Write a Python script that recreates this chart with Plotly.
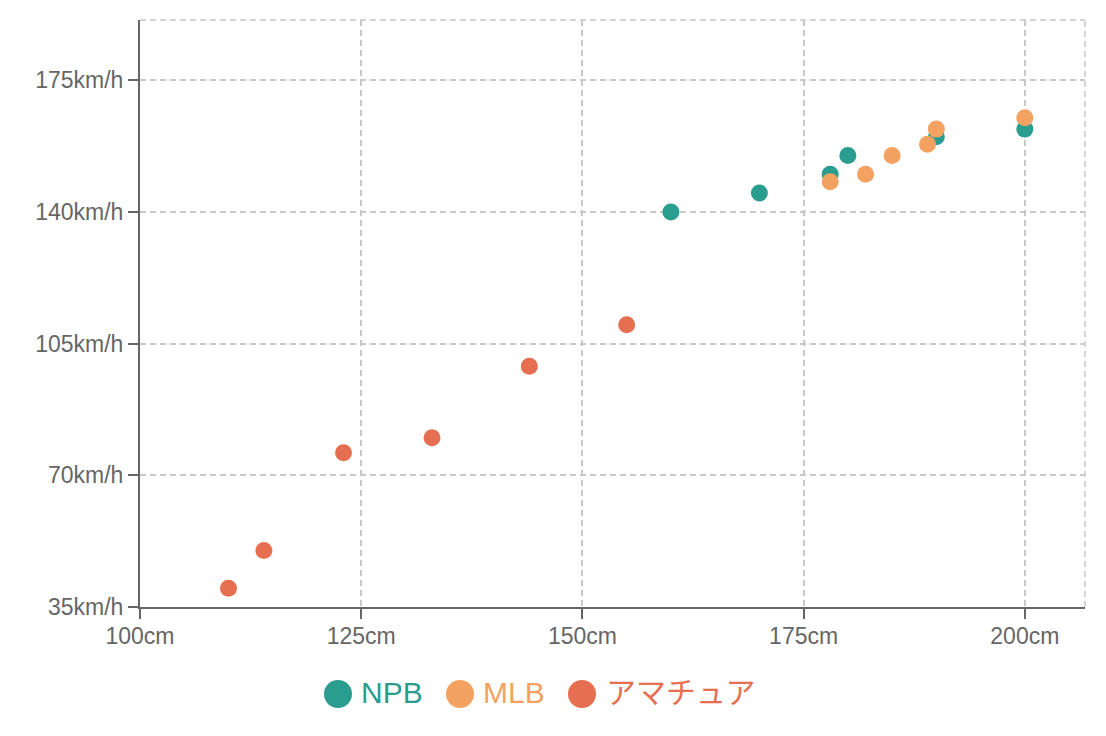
import plotly.graph_objs as go

# データ（身長cm / 球速km/h）
npb_height = [160, 170, 178, 180, 190, 200]
npb_speed = [140, 145, 150, 155, 160, 162]

mlb_height = [178, 182, 185, 189, 190, 200]
mlb_speed = [148, 150, 155, 158, 162, 165]

ama_height = [110, 114, 123, 133, 144, 155]
ama_speed = [40, 50, 76, 80, 99, 110]

series_names = ["NPB", "MLB", "アマチュア"]
series_colors = ["#2a9d8f", "#f4a261", "#e76f51"]

x_ticks = [100, 125, 150, 175, 200]
y_ticks = [35, 70, 105, 140, 175]

FONT = "Liberation Sans, Arial, Noto Sans CJK JP, sans-serif"
OFF = 8  # ページの余白ぶん

fig = go.Figure()

for name, color, xs, ys in zip(series_names, series_colors,
                               [npb_height, mlb_height, ama_height],
                               [npb_speed, mlb_speed, ama_speed]):
    fig.add_trace(go.Scatter(
        x=xs, y=ys, name=name, mode="markers",
        marker=dict(size=17, color=color, line=dict(width=0)),
        showlegend=False))

axis_common = dict(
    showline=True, linecolor="#666666", linewidth=2,
    ticks="outside", ticklen=10, tickwidth=2, tickcolor="#666666",
    tickfont=dict(family=FONT, size=23, color="#666666"),
    showgrid=True, gridcolor="#c8c8c8", gridwidth=1.5, griddash="6px,4px",
    zeroline=False,
)

fig.update_xaxes(range=[100, 206.8], tickvals=x_ticks,
                 ticktext=[f"{v}cm" for v in x_ticks], ticklabelstandoff=-3,
                 **axis_common)
fig.update_yaxes(range=[35, 191], tickvals=y_ticks,
                 ticktext=[f"{v}km/h" for v in y_ticks], **axis_common)

# 上と右の枠（点線）
for x0, y0, x1, y1 in [(0, 1, 1, 1), (1, 0, 1, 1)]:
    fig.add_shape(type="line", xref="paper", yref="paper",
                  x0=x0, y0=y0, x1=x1, y1=y1,
                  line=dict(color="#c8c8c8", width=1.5, dash="6px,4px"))

# 凡例（自作）
W, H, L, T = 945.0, 587.0, 140.0 - OFF, 20.0 - OFF
circle_px = [338, 460, 582]
text_px = [359, 481, 604]
legend_py = 694 - OFF
for name, color, cx, tx in zip(series_names, series_colors, circle_px, text_px):
    fig.add_shape(type="circle", xref="paper", yref="paper",
                  xsizemode="pixel", ysizemode="pixel",
                  xanchor=(cx - OFF - L) / W, yanchor=(T + H - legend_py) / H,
                  x0=-14, x1=14, y0=-14, y1=14,
                  fillcolor=color, line=dict(width=0))
    fig.add_annotation(text=name, xref="paper", yref="paper",
                       x=(tx - OFF - L) / W, y=(T + H - legend_py + 1) / H,
                       xanchor="left", yanchor="middle", showarrow=False,
                       font=dict(family=FONT, size=30, color=color))

fig.update_layout(
    width=1106 - OFF, height=736 - OFF,
    margin=dict(l=140 - OFF, r=21, t=20 - OFF, b=129),
    plot_bgcolor="white", paper_bgcolor="white",
    showlegend=False,
)

fig.write_html("out.html")
